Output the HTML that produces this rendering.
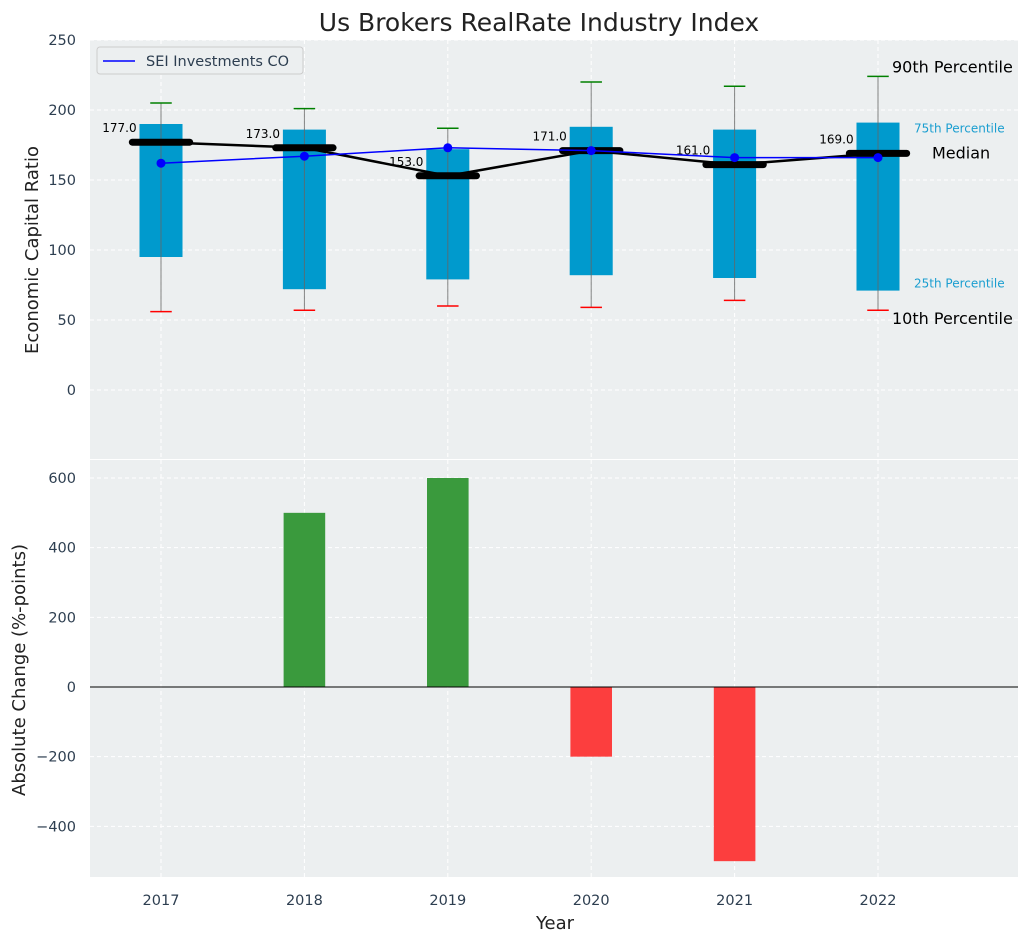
<!DOCTYPE html>
<html><head><meta charset="utf-8"><style>
body{margin:0;background:#fff;font-family:"DejaVu Sans","Liberation Sans",sans-serif}
svg text{font-family:"DejaVu Sans","Liberation Sans",sans-serif}
</style></head><body>
<svg id="c" width="1029" height="942" xmlns="http://www.w3.org/2000/svg"></svg>
<script>
const years=[2017,2018,2019,2020,2021,2022];
const p10=[56,57,60,59,64,57];
const p25=[95,72,79,82,80,71];
const p75=[190,186,172,188,186,191];
const p90=[205,201,187,220,217,224];
const medians=[177,173,153,171,161,169];
const sei=[162,167,173,171,166,166];
const changes=[0,500,600,-200,-500,0];
const topTicks=[0,50,100,150,200,250];
const botTicks=[-400,-200,0,200,400,600];

const svg=document.getElementById('c');
const NS='http://www.w3.org/2000/svg';
function el(t,a,txt){const e=document.createElementNS(NS,t);for(const k in a)e.setAttribute(k,a[k]);if(txt!==undefined)e.textContent=txt;svg.appendChild(e);return e;}
const L=90,R=1018;
const U=143.4;
const x=v=>161+(v-2017)*U;
const yT=v=>390-v*1.4;
const yB=v=>687-v*(209/600);
const T0=40,T1=459,B0=460,B1=877;

let e=el('rect',{x:L,y:T0,width:R-L,height:T1-T0,fill:'#eceff0'});

e=el('rect',{x:L,y:B0,width:R-L,height:B1-B0,fill:'#eceff0'});


years.forEach(v=>{
 el('line',{x1:x(v),x2:x(v),y1:T0,y2:T1,stroke:'#fff','stroke-dasharray':'4,3','stroke-width':1});
 el('line',{x1:x(v),x2:x(v),y1:B0,y2:B1,stroke:'#fff','stroke-dasharray':'4,3','stroke-width':1});
 e=el('text',{x:x(v),y:905,'text-anchor':'middle','font-size':14.5,fill:'#2d3e50'},v);
 
});
topTicks.forEach(v=>{
 el('line',{x1:L,x2:R,y1:yT(v),y2:yT(v),stroke:'#fff','stroke-dasharray':'4,3'});
 e=el('text',{x:76,y:yT(v)+5,'text-anchor':'end','font-size':14.5,fill:'#2d3e50'},v);
 
});
botTicks.forEach(v=>{
 el('line',{x1:L,x2:R,y1:yB(v),y2:yB(v),stroke:'#fff','stroke-dasharray':'4,3'});
 e=el('text',{x:76,y:yB(v)+5,'text-anchor':'end','font-size':14.5,fill:'#2d3e50'},v<0?'\u2212'+(-v):v);
 
});

const bw=0.3,cw=0.15;
years.forEach((v,i)=>{
 e=el('rect',{x:x(v-bw/2),y:yT(p75[i]),width:x(v+bw/2)-x(v-bw/2),height:yT(p25[i])-yT(p75[i]),fill:'#009acd'});
 
 el('line',{x1:x(v),x2:x(v),y1:yT(p90[i]),y2:yT(p10[i]),stroke:'#666','stroke-width':1,opacity:0.8});
 el('line',{x1:x(v-cw/2),x2:x(v+cw/2),y1:yT(p90[i]),y2:yT(p90[i]),stroke:'green','stroke-width':1.5});
 el('line',{x1:x(v-cw/2),x2:x(v+cw/2),y1:yT(p10[i]),y2:yT(p10[i]),stroke:'red','stroke-width':1.5});
});
e=el('polyline',{points:years.map((v,i)=>x(v)+','+yT(medians[i])).join(' '),fill:'none',stroke:'#000','stroke-width':2.5});

years.forEach((v,i)=>{
 e=el('line',{x1:x(v-0.2),x2:x(v+0.2),y1:yT(medians[i]),y2:yT(medians[i]),stroke:'#000','stroke-width':7,'stroke-linecap':'round'});
 
 e=el('text',{x:x(v)-0.17*U,y:yT(medians[i])-10,'text-anchor':'end','font-size':12,fill:'#000'},medians[i].toFixed(1));
 
});
e=el('polyline',{points:years.map((v,i)=>x(v)+','+yT(sei[i])).join(' '),fill:'none',stroke:'blue','stroke-width':1.5});

years.forEach((v,i)=>{e=el('circle',{cx:x(v),cy:yT(sei[i]),r:4.5,fill:'blue'});});

[['90th Percentile',p90[5],892,16,'#000',-4],['75th Percentile',p75[5],914,12,'#1a9ed0',10],['Median',medians[5],932,16,'#000',5],['25th Percentile',p25[5],914,12,'#1a9ed0',-3],['10th Percentile',p10[5],892,16,'#000',14]].forEach(a=>{
 e=el('text',{x:a[2],y:yT(a[1])+a[5],'font-size':a[3],fill:a[4]},a[0]);
 
});

e=el('rect',{x:97,y:47,width:206,height:27,rx:3,fill:'#eceff0',stroke:'#ccc'});

el('line',{x1:103,x2:135,y1:61,y2:61,stroke:'blue','stroke-width':1.5});
e=el('text',{x:146,y:66,'font-size':14.5,fill:'#2d3e50'},'SEI Investments CO');


const bb=0.29;
years.forEach((v,i)=>{
 if(changes[i]===0)return;
 const y0=yB(Math.max(0,changes[i])),y1=yB(Math.min(0,changes[i]));
 e=el('rect',{x:x(v-bb/2),y:y0,width:x(v+bb/2)-x(v-bb/2),height:y1-y0,fill:changes[i]>0?'#3a9a3d':'#fc3e3e'});
 
});
el('line',{x1:L,x2:R,y1:yB(0),y2:yB(0),stroke:'#000','stroke-width':1});

e=el('text',{x:539,y:31,'text-anchor':'middle','font-size':25,fill:'#222'},'Us Brokers RealRate Industry Index');

e=el('text',{x:555,y:929,'text-anchor':'middle','font-size':18,fill:'#222'},'Year');

e=el('text',{x:0,y:0,'text-anchor':'middle','font-size':18,fill:'#222',transform:'translate(38,250) rotate(-90)'},'Economic Capital Ratio');

e=el('text',{x:0,y:0,'text-anchor':'middle','font-size':18,fill:'#222',transform:'translate(25,670) rotate(-90)'},'Absolute Change (%-points)');

</script>
</body></html>
